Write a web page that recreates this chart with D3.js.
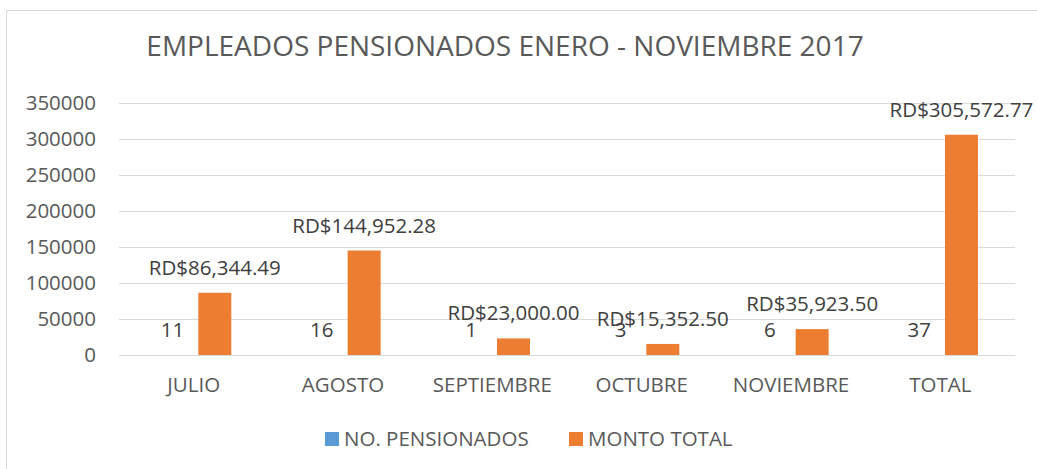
<!DOCTYPE html>
<meta charset="utf-8">
<style>
body { margin: 0; background: #fff; }
text { font-family: "Open Sans", sans-serif; }
.grid line { stroke: #d9d9d9; stroke-width: 1px; shape-rendering: crispEdges; }
.axis text { fill: #595959; font-size: 20.5px; }
.label { fill: #404040; font-size: 20.5px; }
</style>
<body>
<script src="https://cdn.jsdelivr.net/npm/d3@7"></script>
<script>

// chart data
var months = ["JULIO", "AGOSTO", "SEPTIEMBRE", "OCTUBRE", "NOVIEMBRE", "TOTAL"];
var seriesNames = ["NO. PENSIONADOS", "MONTO TOTAL"];
var pensionados = [11, 16, 1, 3, 6, 37];
var montoTotal = [86344.49, 144952.28, 23000.00, 15352.50, 35923.50, 305572.77];
var yTicks = [0, 50000, 100000, 150000, 200000, 250000, 300000, 350000];
var colors = ["#5b9bd5", "#ed7d31"];

var width = 1037, height = 469;
var plot = {left: 119, right: 1015, top: 102.7, bottom: 355};

var svg = d3.select("body").append("svg")
    .attr("width", width)
    .attr("height", height);

// chart border
svg.append("rect")
    .attr("x", 6.5).attr("y", 10.5)
    .attr("width", width + 10).attr("height", height + 10)
    .attr("fill", "none")
    .attr("stroke", "#d9d9d9");

// title
svg.append("text")
    .attr("x", 505).attr("y", 56)
    .attr("text-anchor", "middle")
    .style("font-size", "28px")
    .style("fill", "#595959")
    .text("EMPLEADOS PENSIONADOS ENERO - NOVIEMBRE 2017");

// scales
var x0 = d3.scaleBand().domain(months).range([plot.left, plot.right]);
var x1 = d3.scaleBand().domain(seriesNames)
    .range([0, x0.bandwidth()])
    .paddingInner(0.22)
    .paddingOuter(0.875);
var y = d3.scaleLinear().domain([0, 350000]).range([plot.bottom, plot.top]);

// gridlines
svg.append("g").attr("class", "grid")
  .selectAll("line")
  .data(yTicks)
  .enter().append("line")
    .attr("x1", plot.left).attr("x2", plot.right)
    .attr("y1", function(d) { return Math.round(y(d)) + 0.5; })
    .attr("y2", function(d) { return Math.round(y(d)) + 0.5; });

// y axis
var yAxis = svg.append("g").attr("class", "axis")
    .attr("transform", "translate(" + (plot.left - 15) + ",0)")
    .call(d3.axisLeft(y).tickValues(yTicks).tickSize(0).tickPadding(8).tickFormat(d3.format("d")));
yAxis.select(".domain").remove();

// x axis
var xAxis = svg.append("g").attr("class", "axis")
    .attr("transform", "translate(0," + plot.bottom + ")")
    .call(d3.axisBottom(x0).tickSize(0).tickPadding(22));
xAxis.select(".domain").remove();

// bars
var table = months.map(function(m, i) {
  return {month: m, values: [
    {series: seriesNames[0], value: pensionados[i], label: String(pensionados[i])},
    {series: seriesNames[1], value: montoTotal[i], label: "RD$" + d3.format(",.2f")(montoTotal[i])}
  ]};
});

var groups = svg.selectAll(".cat")
    .data(table)
  .enter().append("g")
    .attr("class", "cat")
    .attr("transform", function(d) { return "translate(" + x0(d.month) + ",0)"; });

groups.selectAll("rect")
    .data(function(d) { return d.values; })
  .enter().append("rect")
    .attr("x", function(d) { return x1(d.series); })
    .attr("width", x1.bandwidth())
    .attr("y", function(d) { return y(d.value); })
    .attr("height", function(d) { return y(0) - y(d.value); })
    .attr("fill", function(d, i) { return colors[i]; });

groups.selectAll("text.label")
    .data(function(d) { return d.values; })
  .enter().append("text")
    .attr("class", "label")
    .attr("x", function(d) { return x1(d.series) + x1.bandwidth() / 2; })
    .attr("y", function(d) { return y(d.value) - 18; })
    .attr("text-anchor", "middle")
    .text(function(d) { return d.label; });

// legend
var legendX = [325, 569];
var legend = svg.selectAll(".legend")
    .data(seriesNames)
  .enter().append("g")
    .attr("class", "legend")
    .attr("transform", function(d, i) { return "translate(" + legendX[i] + ",432)"; });
legend.append("rect")
    .attr("width", 14).attr("height", 14)
    .attr("fill", function(d, i) { return colors[i]; });
legend.append("text")
    .attr("x", 19).attr("y", 14)
    .style("font-size", "20.5px")
    .style("fill", "#595959")
    .text(function(d) { return d; });

</script>
</body>
